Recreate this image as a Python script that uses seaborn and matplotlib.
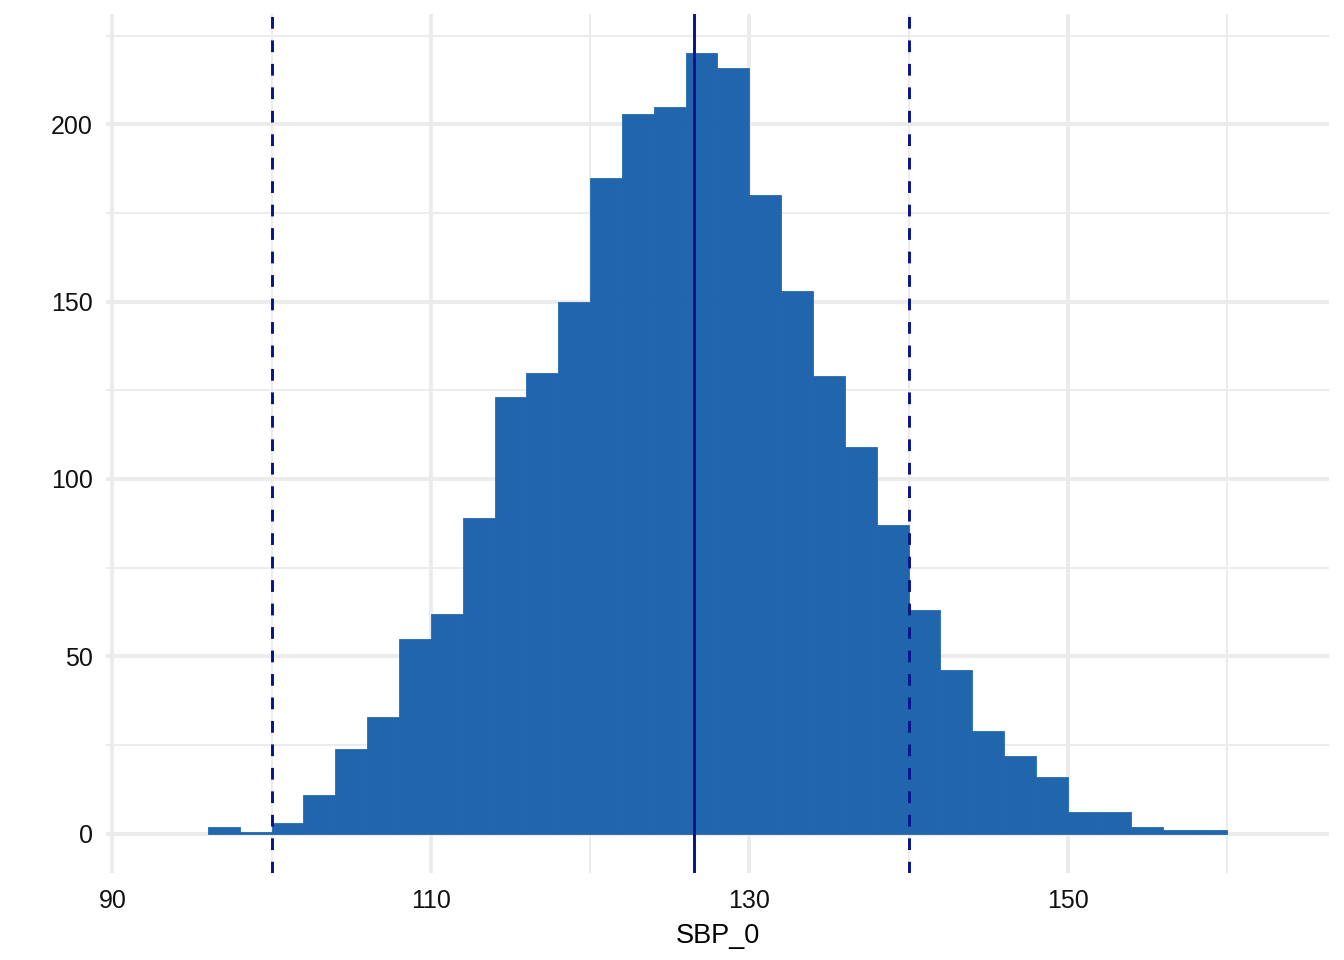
import matplotlib
matplotlib.use("Agg")
import matplotlib.pyplot as plt
import seaborn as sns
import numpy as np

# histogram of SBP_0, bins of width 2 from 96 to 160
bin_edges = [96, 98, 100, 102, 104, 106, 108, 110, 112, 114, 116, 118, 120,
             122, 124, 126, 128, 130, 132, 134, 136, 138, 140, 142, 144, 146,
             148, 150, 152, 154, 156, 158, 160]
counts = [2, 0.5, 3, 11, 24, 33, 55, 62, 89, 123, 130, 150, 185,
          203, 205, 220, 216, 180, 153, 129, 109, 87, 63, 46, 29, 22,
          16, 6, 6, 2, 1, 1]

mean_sbp = 126.5
ref_limits = [100, 140]

x_major = [90, 110, 130, 150]
x_minor = [100, 120, 140, 160]
y_major = [0, 50, 100, 150, 200]
y_minor = [25, 75, 125, 175, 225]

bar_color = "#2166AC"
line_color = "#06148C"

sns.set_theme(style="white")
plt.rcParams['font.family'] = ['Liberation Sans', 'DejaVu Sans']

fig, ax = plt.subplots(figsize=(7, 5), dpi=192)
fig.subplots_adjust(left=0.0789, right=0.9888, top=0.985, bottom=0.091)

centers = [(a + b) / 2 for a, b in zip(bin_edges[:-1], bin_edges[1:])]
sns.histplot(x=centers, weights=counts, bins=bin_edges, ax=ax,
             color=bar_color, alpha=1, edgecolor=bar_color, linewidth=0.3)

ax.axvline(mean_sbp, color=line_color, linewidth=1.1)
for v in ref_limits:
    ax.axvline(v, color=line_color, linewidth=1.1, linestyle=(0, (4, 4)))

ax.set_xlim(89.6, 166.4)
ax.set_ylim(-11, 231)
ax.set_xticks(x_major)
ax.set_xticks(x_minor, minor=True)
ax.set_yticks(y_major)
ax.set_yticks(y_minor, minor=True)

ax.grid(True, which="major", color="#EBEBEB", linewidth=1.4)
ax.grid(True, which="minor", color="#EBEBEB", linewidth=0.7)
ax.set_axisbelow(True)
for s in ax.spines.values():
    s.set_visible(False)

ax.tick_params(axis="both", which="both", length=0, labelsize=9.4,
               labelcolor="#111111")
ax.tick_params(axis="x", pad=6.3)
ax.tick_params(axis="y", pad=5.0)
ax.set_xlabel("SBP_0", fontsize=10.2, labelpad=3.5, color="black")
ax.set_ylabel("")

fig.savefig("out.png", dpi=192)
